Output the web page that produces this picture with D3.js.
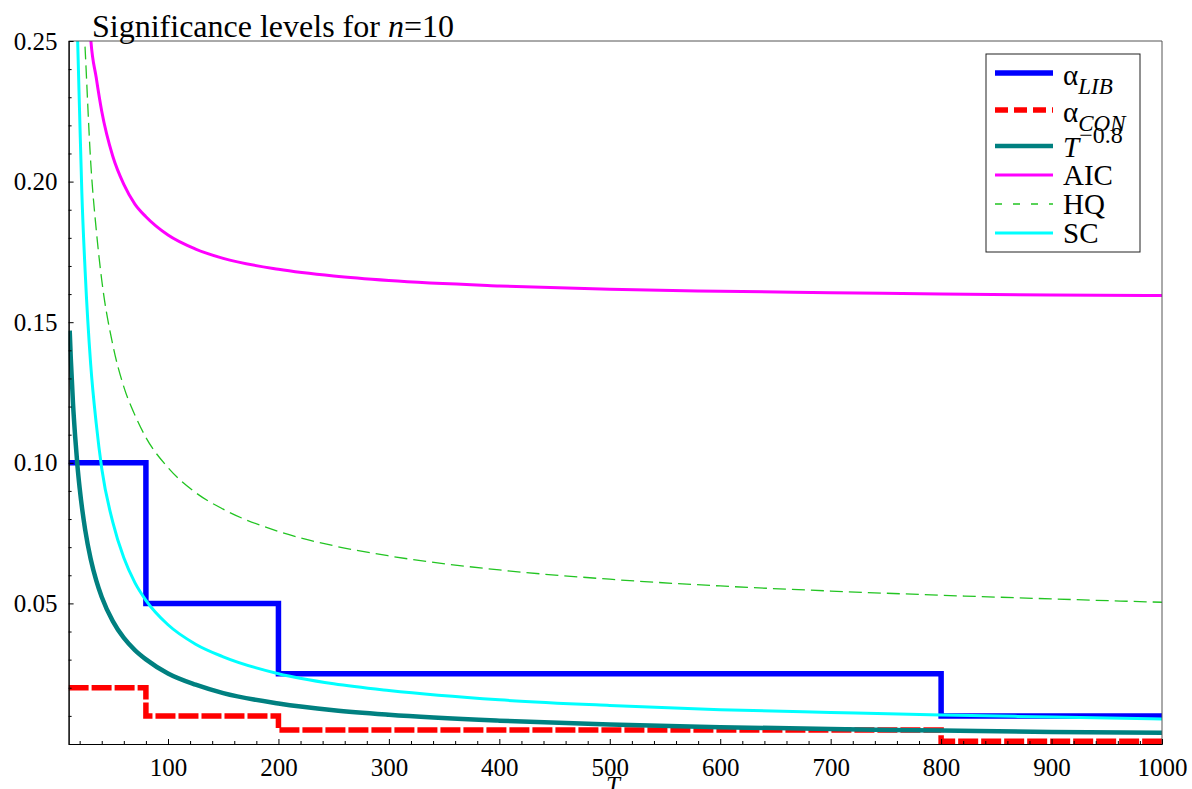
<!DOCTYPE html>
<html lang="en">
<head>
<meta charset="UTF-8">
<title>Significance levels for n=10</title>
<script src="https://cdn.jsdelivr.net/npm/d3@7"></script>
<style>
  body { margin: 0; background: #fff; }
  svg text { font-family: "Liberation Serif", "DejaVu Serif", serif; fill: #000; }
</style>
</head>
<body>
<svg id="chart" width="1192" height="789"></svg>
<script>
// sample size T
var xMajor = [100, 200, 300, 400, 500, 600, 700, 800, 900, 1000];
var xMinor = d3.range(20, 1001, 20).filter(d => d % 100 !== 0);
var yMajor = [0.05, 0.10, 0.15, 0.20, 0.25];
var yMinor = [0, 0.01, 0.02, 0.03, 0.04, 0.06, 0.07, 0.08, 0.09, 0.11, 0.12, 0.13, 0.14,
              0.16, 0.17, 0.18, 0.19, 0.21, 0.22, 0.23, 0.24];

// step rules: breakpoints and levels
var stepT = [10, 80, 200, 800, 1000];
var libLevels = [0.10, 0.05, 0.025, 0.01, 0.01];
var conLevels = [0.02, 0.01, 0.005, 0.001, 0.001];

// smooth curves, [T, level]
var powT = [11, 12, 14, 16, 18, 20, 25, 30, 35, 40, 50, 60, 70, 80, 100, 125, 150, 200, 250, 300, 400, 500, 600, 700, 800, 900, 1000];
var powV = [0.147, 0.137, 0.121, 0.109, 0.099, 0.091, 0.0762, 0.0658, 0.0582, 0.0523, 0.0437, 0.0377, 0.0334, 0.0301, 0.0251, 0.0211, 0.0181, 0.0144, 0.0120, 0.0104, 0.0083, 0.0069, 0.0060, 0.0053, 0.0048, 0.0043, 0.0040];

var aicT = [27, 30, 35, 40, 50, 60, 70, 80, 100, 125, 150, 200, 250, 300, 400, 500, 600, 700, 800, 900, 1000];
var aicV = [0.272, 0.251, 0.237, 0.225, 0.209, 0.199, 0.192, 0.1875, 0.181, 0.176, 0.1727, 0.1688, 0.1664, 0.1648, 0.1629, 0.1617, 0.1610, 0.1605, 0.1600, 0.1597, 0.1595];

var hqT = [22, 24, 25, 30, 35, 40, 50, 60, 70, 80, 100, 125, 150, 200, 250, 300, 400, 500, 600, 700, 800, 900, 1000];
var hqV = [0.275, 0.255, 0.247, 0.207, 0.183, 0.165, 0.142, 0.127, 0.117, 0.109, 0.0983, 0.0894, 0.0835, 0.0756, 0.0705, 0.0669, 0.0619, 0.0586, 0.0562, 0.0544, 0.0529, 0.0516, 0.0504];

var scT = [17, 18, 20, 22, 25, 30, 35, 40, 50, 60, 70, 80, 100, 125, 150, 200, 250, 300, 400, 500, 600, 700, 800, 900, 1000];
var scV = [0.27, 0.253, 0.224, 0.196, 0.168, 0.135, 0.114, 0.098, 0.0789, 0.0662, 0.0574, 0.0511, 0.0424, 0.0355, 0.0310, 0.0250, 0.0214, 0.0190, 0.0157, 0.0137, 0.0122, 0.0112, 0.0103, 0.0096, 0.0089];

var svg = d3.select("#chart");

var x = d3.scaleLinear().domain([10, 1000]).range([68.6, 1162]);
var y = d3.scaleLinear().domain([0, 0.25]).range([744, 41]);

svg.append("defs").append("clipPath").attr("id", "plotclip")
  .append("rect")
  .attr("x", x(10)).attr("y", y(0.25))
  .attr("width", x(1000) - x(10)).attr("height", y(0) - y(0.25));

function pairs(ts, vs) { return ts.map((t, i) => [t, vs[i]]); }

var series = [
  { data: pairs(stepT, libLevels), color: "#0000ff", width: 5.5, dash: null,   curve: d3.curveStepAfter },
  { data: pairs(stepT, conLevels), color: "#ff0000", width: 5.5, dash: "20,3", curve: d3.curveStepAfter },
  { data: pairs(powT, powV),       color: "#008080", width: 4.5, dash: null,   curve: d3.curveMonotoneX },
  { data: pairs(aicT, aicV),       color: "#ff00ff", width: 3,   dash: null,   curve: d3.curveMonotoneX },
  { data: pairs(hqT, hqV),         color: "#22c422", width: 1.3, dash: "13,6", curve: d3.curveMonotoneX },
  { data: pairs(scT, scV),         color: "#00ffff", width: 3,   dash: null,   curve: d3.curveMonotoneX }
];

var plot = svg.append("g").attr("clip-path", "url(#plotclip)");
series.forEach(function (s) {
  var line = d3.line().x(d => x(d[0])).y(d => y(d[1])).curve(s.curve);
  plot.append("path")
    .attr("d", line(s.data))
    .attr("fill", "none")
    .attr("stroke", s.color)
    .attr("stroke-width", s.width)
    .attr("stroke-dasharray", s.dash);
});

// frame
svg.append("line").attr("x1", x(10)).attr("x2", x(1000)).attr("y1", y(0.25)).attr("y2", y(0.25))
  .attr("stroke", "#555").attr("stroke-width", 1);
svg.append("line").attr("x1", x(1000)).attr("x2", x(1000)).attr("y1", y(0.25)).attr("y2", y(0))
  .attr("stroke", "#555").attr("stroke-width", 1);

// axes, ticks pointing inward
var fontSize = 25;
svg.append("g").attr("class", "axis").attr("transform", "translate(" + x(10) + ",0)")
  .call(d3.axisLeft(y).tickValues(yMajor).tickSize(-5).tickSizeOuter(0).tickPadding(11)
    .tickFormat(d3.format(".2f")));
svg.append("g").attr("class", "axis").attr("transform", "translate(" + x(10) + ",0)")
  .call(d3.axisLeft(y).tickValues(yMinor).tickSize(-3).tickSizeOuter(0).tickFormat(""));

svg.append("g").attr("class", "axis").attr("transform", "translate(0," + y(0) + ")")
  .call(d3.axisBottom(x).tickValues(xMajor).tickSize(-5).tickSizeOuter(0).tickPadding(14)
    .tickFormat(d3.format("d")));
svg.append("g").attr("class", "axis").attr("transform", "translate(0," + y(0) + ")")
  .call(d3.axisBottom(x).tickValues(xMinor).tickSize(-3).tickSizeOuter(0).tickFormat(""));

svg.selectAll("g.axis").attr("font-family", "Liberation Serif").attr("font-size", fontSize);
svg.selectAll(".tick text")
  .attr("font-family", "Liberation Serif")
  .attr("font-size", fontSize)
  .attr("fill", "#000");
svg.selectAll(".domain").attr("stroke", "#000");
svg.selectAll(".tick line").attr("stroke", "#000");

// axis label
svg.append("text")
  .attr("x", 613).attr("y", 794)
  .attr("text-anchor", "middle")
  .style("font-size", fontSize + "px")
  .style("font-style", "italic")
  .text("T");

// title
var title = svg.append("text").attr("x", 92).attr("y", 37).style("font-size", "32px");
title.append("tspan").text("Significance levels for ");
title.append("tspan").style("font-style", "italic").text("n");
title.append("tspan").text("=10");

// legend
var lg = svg.append("g");
lg.append("rect")
  .attr("x", 986).attr("y", 54).attr("width", 154).attr("height", 198)
  .attr("fill", "#fff").attr("stroke", "#222").attr("stroke-width", 1);

var rowY = [73, 110, 146, 175, 204, 233];
var legendDash = [null, "13,6", null, null, "7,11", null];
series.forEach(function (s, i) {
  lg.append("line")
    .attr("x1", 995).attr("x2", 1053).attr("y1", rowY[i]).attr("y2", rowY[i])
    .attr("stroke", s.color).attr("stroke-width", s.width)
    .attr("stroke-dasharray", legendDash[i]);
});

function label(i, dy) {
  return lg.append("text").attr("x", 1063).attr("y", rowY[i] + dy).style("font-size", "29px");
}
var t0 = label(0, 12);
t0.append("tspan").text("α");
t0.append("tspan").attr("dy", 9).style("font-size", "23px").style("font-style", "italic").text("LIB");
var t1 = label(1, 12);
t1.append("tspan").text("α");
t1.append("tspan").attr("dy", 9).style("font-size", "23px").style("font-style", "italic").text("CON");
var t2 = label(2, 11);
t2.append("tspan").style("font-style", "italic").text("T");
t2.append("tspan").attr("dy", -14).style("font-size", "24px").text("−0.8");
label(3, 10).text("AIC");
label(4, 10).text("HQ");
label(5, 10).text("SC");
</script>
</body>
</html>
